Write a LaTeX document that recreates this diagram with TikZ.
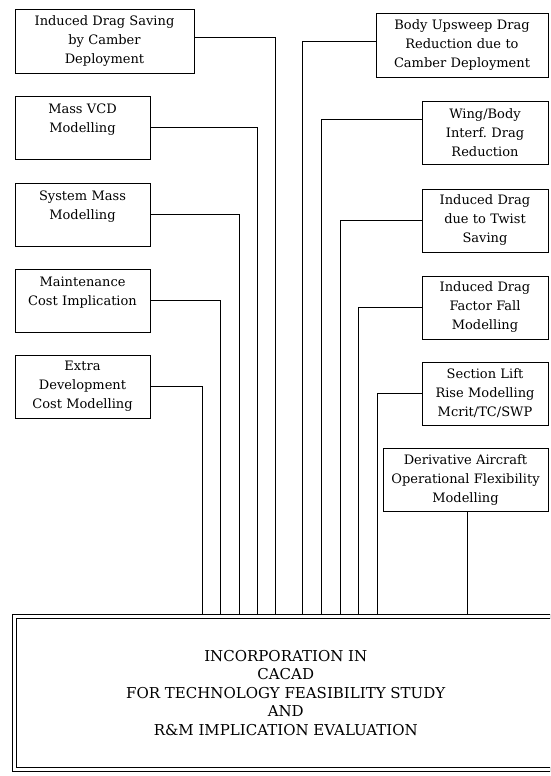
\documentclass[tikz,border=0pt]{standalone}
\usepackage{fontspec}
\setmainfont{DejaVu Serif}
\usetikzlibrary{
	calc,
	positioning
}

\begin{document}
\begin{tikzpicture} [
		x = 1pt,
		y = -1pt,
		node distance = 23pt,
		box/.style = {
			draw,
			rectangle,
			line width = 1pt,
			minimum height = 63pt,
			inner xsep = 2pt,
			inner ysep = 1pt,
			align = center,
			font = \frenchspacing\fontsize{13}{19}\selectfont,
		},
		main/.style = {
			draw,
			double,
			double distance = 3.5pt,
			line width = 1pt,
			minimum width = 542.5pt,
			minimum height = 153pt,
			align = center,
			font = \fontsize{15}{18.5}\selectfont,
		},
		line/.style = {
			draw,
			line width = 1pt,
			shorten >= 2.3pt,
		}
	]

	\useasboundingbox (0, 0) rectangle (550, 776);
	\clip (0, 0) rectangle (550, 776);

	% left column
	\node[box, text width = 175pt] (l1) at (104.5, 41.5) {
		Induced Drag Saving\\by Camber\\Deployment
	};
	\node[box, text width = 131pt, below = 22pt of l1.south west, anchor = north west] (l2) {
		Mass VCD\\Modelling\\~
	};
	\node[box, text width = 131pt, below = 23pt of l2] (l3) {
		System Mass\\Modelling\\~
	};
	\node[box, text width = 131pt, below = 22pt of l3] (l4) {
		Maintenance\\Cost Implication\\~
	};
	\node[box, text width = 131pt, below = 22pt of l4] (l5) {
		Extra\\Development\\Cost Modelling
	};

	% right column
	\node[box, text width = 168pt] (r1) at (462, 45.5) {
		Body Upsweep Drag\\Reduction due to\\Camber Deployment
	};
	\node[box, text width = 122pt, below = 23pt of r1.south east, anchor = north east] (r2) {
		Wing/Body\\Interf. Drag\\Reduction
	};
	\node[box, text width = 122pt, below = 24pt of r2] (r3) {
		Induced Drag\\due to Twist\\Saving
	};
	\node[box, text width = 122pt, below = 23pt of r3] (r4) {
		Induced Drag\\Factor Fall\\Modelling
	};
	\node[box, text width = 122pt, below = 22pt of r4] (r5) {
		Section Lift\\Rise Modelling\\Mcrit/TC/SWP
	};
	\node[box, text width = 161pt, below = 22pt of r5.south east, anchor = north east] (r6) {
		Derivative Aircraft\\Operational Flexibility\\Modelling
	};

	\node[main] (cacad) at (285.75, 693) {
		INCORPORATION IN\\
		CACAD\\
		FOR TECHNOLOGY FEASIBILITY STUDY\\
		AND\\
		R\&M IMPLICATION EVALUATION
	};

	\begin{scope} [
			every path/.style = line
		]
		\path ([yshift = 4pt] l1.east) -| (275, 0 |- cacad.north);
		\path (l2.east) -| (257, 0 |- cacad.north);
		\path (l3.east) -| (239, 0 |- cacad.north);
		\path (l4.east) -| (220, 0 |- cacad.north);
		\path (l5.east) -| (202, 0 |- cacad.north);

		\path ([yshift = 4pt] r1.west) -| (302, 0 |- cacad.north);
		\path ([yshift = 13pt] r2.west) -| (321, 0 |- cacad.north);
		\path (r3.west) -| (340, 0 |- cacad.north);
		\path (r4.west) -| (358, 0 |- cacad.north);
		\path (r5.west) -| (377, 0 |- cacad.north);
		\path ([xshift = 1.5pt] r6.south) -- ([xshift = 1.5pt] r6.south |- cacad.north);
	\end{scope}
\end{tikzpicture}
\end{document}
